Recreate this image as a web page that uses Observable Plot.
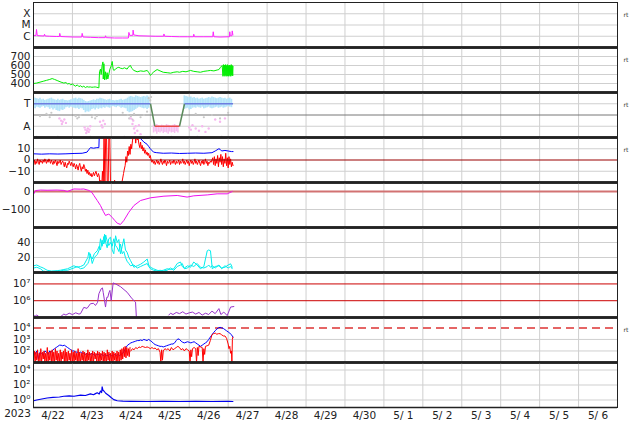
<!DOCTYPE html>
<html><head><meta charset="utf-8">
<script src="https://cdn.jsdelivr.net/npm/d3@7"></script>
<script src="https://cdn.jsdelivr.net/npm/@observablehq/plot@0.6"></script>
<style>body{margin:0;background:#fff} #chart{position:relative;width:634px;height:424px;}</style>
</head><body><div id="chart"></div><script>
// ---------- axis labels ----------
const dayLabels = ["4/22","4/23","4/24","4/25","4/26","4/27","4/28","4/29","4/30","5/ 1","5/ 2","5/ 3","5/ 4","5/ 5","5/ 6"];
const yearLabel = "2023";
const rtLabel = "rt";

// ---------- panel 1 : X-ray flux (hours since 4/22 00:00) ----------
const xrTicks = [1e-6, 1e-5, 1e-4];
const xrTickLabels = ["C", "M", "X"];
const xrT = [0.2,1.5,1.85,2.3,4,6.5,6.8,7.2,10,14,16.0,16.2,16.6,20,25,29.7,30,30.5,35,40,44.2,44.4,44.8,50,55,58.5,58.8,59.3,61.2,61.4,61.8,65,70,75,80.2,80.4,80.8,85,90,95,98.6,98.8,99.2,105,110.5,110.8,111.2,115,120.8,121.0,121.3,122.3,122.5,122.9];
const xrF = [1.2e-6,1.15e-6,4e-6,1.15e-6,1.1e-6,1.05e-6,1.5e-6,1.05e-6,1.0e-6,9.5e-7,9.5e-7,1.8e-6,9.5e-7,9e-7,8.5e-7,8.5e-7,1.8e-6,8.5e-7,8e-7,7.5e-7,7.5e-7,1.1e-6,7.5e-7,7e-7,7e-7,7e-7,2.2e-6,1.2e-6,1.2e-6,3.5e-6,1.3e-6,1.1e-6,1.05e-6,1.0e-6,1.0e-6,1.6e-6,1.0e-6,9.5e-7,9e-7,9e-7,9e-7,1.5e-6,9e-7,9e-7,9e-7,2.5e-6,9e-7,8.5e-7,9e-7,2.5e-6,1.1e-6,1.1e-6,3e-6,1.3e-6];

// ---------- panel 2 : solar wind speed ----------
const spTicks = [400, 500, 600, 700];
const spTickLabels = ["400", "500", "600", "700"];
const spT = [0,2,4,6,8,10,11.5,13,15,17,18.7,20,21,22,23,24,25,26,27,28,29,30,31,32,33,34,35,36,37,38,39,40.3,40.7,41.3,41.7,42.3,42.8,43.0,43.4,43.8,44.4,44.8,45.4,45.8,46.4,47.1,48.0,48.5,49.1,49.5,50.6,51.6,52.6,53.6,55,56,57.7,58.8,59.8,60.5,61.9,63.9,66,68,70.1,71.1,72.1,73,74.2,76.2,78,80,82.4,84.5,86.5,88.6,90,92,94,96.8,98.8,100.9,102.9,105,107.1,109.1,111.2,113.2,114.3,115.3,116.3,116.8,117.1,117.4,117.7,118,118.3,118.6,118.9,119.2,119.5,119.8,120.1,120.4,120.7,121,121.3,121.6,121.9,122.2,122.5,122.8,123];
const spV = [400,405,415,425,435,445,455,445,430,415,405,410,395,400,385,395,380,370,385,365,375,360,370,355,365,360,362,358,360,362,358,352,530,560,500,600,640,450,620,440,530,445,520,450,500,560,600,645,560,545,560,575,580,570,565,575,560,590,600,570,545,530,540,535,545,520,490,510,530,555,540,525,520,515,525,530,525,535,530,545,535,530,525,535,540,545,540,550,555,580,600,480,610,490,605,480,610,490,600,480,610,485,600,480,605,490,600,480,610,490,600,485,590];

// ---------- panel 3 : sector (T = 1, A = -1) ----------
const secTicks = [1, -1];
const secTickLabels = ["T", "A"];
const secT = [0, 72.1, 74.8, 90, 93.1, 123];
const secV = [1, 1, -1, -1, 1, 1];
const secColors = ["#6d7de0", "#5a8a5a", "#e84a4a", "#5a8a5a", "#6d7de0"];
const lb1Start = 0;
const lb1Lo = [0.6,0.55,0.7,0.65,0.6,0.7,0.75,0.6,0.7,0.65, 0.5,0.6,0.45,0.55,0.4,0.35,0.3,0.45,0.4,0.5, 0.65,0.7,0.6,0.7,0.65,0.6,0.55,0.6,0.5,0.6, 0.55,0.4,0.2,0.3,0.25,0.35,0.5,0.55,0.45,0.6, 0.5,0.6,0.55,0.65,0.6,0.7,0.65,0.6,0.7,0.75, 0.7,0.65,0.75,0.7,0.6,0.65,0.6,0.55,0.3,0.2, 0.25,0.3,0.4,0.5,0.6,0.7,0.65,0.6,0.55,0.6,0.5,0.6];
const lb1Hi = [1.6,1.5,1.45,1.4,1.5,1.35,1.4,1.3,1.35,1.4, 1.45,1.5,1.4,1.35,1.3,1.4,1.3,1.35,1.4,1.3, 1.3,1.25,1.3,1.35,1.4,1.45,1.5,1.4,1.5,1.45, 1.4,1.3,1.2,1.15,1.2,1.25,1.3,1.35,1.3,1.4, 1.4,1.5,1.45,1.4,1.35,1.3,1.35,1.4,1.3,1.3, 1.25,1.3,1.3,1.35,1.4,1.3,1.35,1.4,1.5,1.6, 1.65,1.6,1.55,1.7,1.65,1.6,1.55,1.6,1.65,1.6,1.7,1.6];
const lb2Start = 93;
const lb2Lo = [0.5,0.55,0.6,0.45,0.5,0.6,0.65,0.6,0.7,0.65, 0.6,0.7,0.55,0.6,0.65,0.7,0.6,0.55,0.6,0.65, 0.7,0.6,0.65,0.7,0.6,0.65,0.7,0.75,0.7,0.65];
const lb2Hi = [1.7,1.65,1.6,1.55,1.6,1.5,1.55,1.45,1.5,1.4, 1.45,1.5,1.4,1.45,1.5,1.55,1.5,1.6,1.55,1.5, 1.45,1.5,1.55,1.5,1.45,1.5,1.4,1.45,1.5,1.4];
const pkStart = 74;
const pkLo = [-1.6,-1.5,-1.7,-1.55,-1.6,-1.5,-1.65,-1.55,-1.6,-1.7,-1.5,-1.6,-1.55,-1.65,-1.5,-1.6];
const pkHi = [-0.9,-1.0,-0.85,-0.95,-1.0,-0.9,-0.95,-1.0,-0.85,-0.9,-0.95,-1.0,-0.9,-0.85,-0.95,-1.0];
const pinkT = [16,17,17.5,18,19,20, 31.5,32,32.5,33,33.5,34,34.5,35, 41,42,42.5,43,44, 60,61,61.5,62,62.5,63,64,65,66, 96,97,98,100,102,104,106,108, 112,115,118];
const pinkV = [-0.3,-0.5,-0.8,-0.6,-0.4,-0.7, -1.1,-1.3,-1.6,-1.4,-1.2,-1.5,-1.3,-1.0, -0.6,-0.9,-1.1,-0.5,-0.8, -0.3,-0.8,-0.5,-1.2,-1.6,-1.0,-1.4,-0.9,-1.7, -1.1,-1.3,-0.9,-1.2,-1.4,-1.0,-1.5,-1.2, -0.4,-0.6,-0.3];
const grayT = [4,8,9,10,11,26,27,28,29,36,37,38,39,55,58,59,60,61,62,66,68,70,71,72,72.5,100,105,110,115,120, 2,15,35,56,73,85,101,116];
const grayV = [-0.1,0.1,0,-0.2,0.2,-0.1,-0.3,-0.2,0,-0.2,0,-0.3,-0.1,0.2,0,-0.3,-0.1,-0.4,0.1,-0.2,0,0.3,1.5,1.3,1.6,0.1,-0.2,0,-0.3,0.2, -1.95,-1.95,-1.95,-1.95,-1.95,-1.95,-1.95,-1.95];

// ---------- panel 4 : IMF Bt (blue), Bz (red) nT ----------
const bTicks = [10, 0, -10];
const bTickLabels = ["10", "0", "\u221210"];
const btT = [0,5,10,15,20,25,30,33,34,35.1,37,39,40.3,40.6,49,60,65,66,68,70,71,72,74,76,80,85,90,95,100,105,110,112,114.3,115,116,118,120,122,123];
const btV = [5.5,5.2,5.5,5.3,5.5,5.8,6,7,9,11,10.5,11,11,25,25,24,21,19,16,14,12,10,7,6.5,6,6.2,5.8,6,6.2,6,6.5,8,10,9.5,8,8.5,8,7.5,7.5];
const bzStep = 0.5; // half-hour samples from 4/22 00:00
const bzV = [
 -3,0,-4,-1,-3,1,-2,-4,0,-2,-1,-3,0,-2,1,-1,-3,0,-2,1,-1,-3,0,-2,-4,-1,-3,0,-2,-5,-1,-3,-2,0,-4,-2,-1,
 -3,-6,-2,-5,-7,-3,-4,-1,-3,-5,-2,-4,-6,-3,-5,-8,-4,-6,-9,-5,-3,-7,-10,-6,-8,-4,-6,-10,-8,-12,-9,-13,-11,-14,-12,-15,-13,-11,-14,-12,-10,-13,-15,-12,-14,
 -25,-18,-25,-10,-25,25,-25,20,25,-25,-25,25,22,-25,-25,-25,
 -22,-25,-18,-25,-23,-25,-20,-25,-22,-25,-24,-20,-16,
 -12,-8,-5,3,-2,8,4,12,5,14,10,17,22,20,25,15,22,18,19,14,11,16,10,13,8,11,6,9,5,7,4,6,2,4,0,-2,0,-3,
 -1,-4,-2,0,-3,-1,-4,-2,1,-2,-4,-1,-3,0,-2,-5,-1,-3,-2,0,-4,-2,-1,-3,0,-2,-4,-1,-3,-2,0,-4,-1,-3,-2,1,-3,-1,-4,-2,0,-3,-1,-5,-2,0,-3,-1,-4,-2,1,-3,-1,-4,-2,0,-3,-5,-1,-3,0,-4,-2,1,-3,-1,-5,-2,-3,-1,-2,0,
 2,-4,3,-5,1,-3,4,-6,2,-2,5,-4,3,-6,1,-3,6,-5,2,-7,3,-4,1,-6,-2,-5];

// ---------- panel 5 : Dst nT ----------
const dstTicks = [0, -100];
const dstTickLabels = ["0", "\u2212100"];
const dstT = [0.2,1.2,4.3,8.4,14.6,18.7,20.8,24.9,29,31,34.1,36,37.2,39.3,41.3,43,44.4,46.4,48.5,50,51.6,53.6,55.7,58.8,61.9,66,72.1,80.4,88.6,94.7,98.8,107.1,113.2,119.4,122.5];
const dstV = [-13,5,8,7,8,6,0,14,13,14,6,-5,-22,-50,-78,-110,-133,-125,-144,-160,-176,-183,-161,-115,-78,-50,-35,-26,-22,-31,-24,-19,-13,-13,0];

// ---------- panel 6 : two cyan station indices ----------
const kTicks = [40, 20];
const kTickLabels = ["40", "20"];
const kT = [0.2,2,4.3,6,8.4,11,14.6,16.6,18.7,21,24.9,27,29,31,33.5,34.1,35,36.2,37.5,39.3,40.5,41.3,42.3,43.4,43.8,44.5,45.4,46.4,47.5,48.5,49.5,50.6,51.6,52.6,53.6,54.7,55.7,56.7,57.7,58.8,59.8,61.9,64,66,68,70.1,71,72.1,74,76.2,78,80,82.4,84.5,86.5,88.6,90.6,91.7,93,95,96.8,98.8,100.9,102.9,105,107.1,108,109.1,110.2,112,114.3,116,118,120,121.5,122.5];
const kA = [9,10,7.5,6,3,2,2.5,3,4,5, 9,7,8,10,20,27,22,18,25,29, 35,30,43,38,51,40,33,45,47,30, 25,49,40,44,25,35,45,30,27,20, 16,7,9,11,14,18,10,7,5,3, 2,3,5,4,5,12,14,8,6,9, 7,14,10,5,8,29,30,29,5,8, 9,6,7,10,11.6,7];
const kB = [6,7,5,2,1,1,1.5,2,3,3, 6,8,5,6,12,15,25,12,20,24, 30,45,35,48,40,50,42,36,40,35, 45,36,33,28,38,25,28,20,15,12, 9,10,6,8,10,12,8,5,3,2, 3,2,3,6,3,8,10,12,5,6, 10,8,12,7,6,8,10,7,9,6, 10,5,9,6,8,5];

// ---------- panel 7 : electron flux ----------
const elTicks = [1e6, 1e7];
const elTickLabels = ["10\u2076", "10\u2077"];
const elT = [0.2,1,2,3,3.3, 16.6,18.7,20,22,24,26,28,29,31,33,35.1,37,38.2,39.5,40.3,41.7,42.5,43,44.4,45.2,45.8,46.5,47.1,47.9,49.1,50.6,53.6,57.7,60.8,62.9,63.4,63.5, 83.4,84.5,86,88,90,92,94,96,98,100,102,104,106,108,110,112,114.3,115.5,117.3,119.4,121.5,123.5];
const elV = [1.3e5,1.2e5,1.4e5,1.2e5,NaN, 1.1e5,1.6e5,1.4e5,1.8e5,1.5e5,1.9e5,1.6e5,1.7e5,4e5,3.5e5,6.6e5,7e5,5.2e5,8e5,2.6e6,5.1e6,5.8e6,3e6,4.2e5,1.6e6,1.6e6,3e6,4.1e6,1.05e6,1.15e7,1e7,6.9e6,3.2e6,1.3e6,8.3e5,1.1e5,NaN, 1.4e5,1.8e5,1.5e5,2e5,1.7e5,2.2e5,1.6e5,1.9e5,2.1e5,1.6e5,2e5,1.4e5,1.8e5,1.5e5,2.4e5,1.7e5,3.4e5,1.5e5,2.1e5,1.3e5,4.2e5,4.5e5];

// ---------- panel 8 : proton flux (log10 values) ----------
const pTicks = [4, 3, 2];
const pTickLabels = ["10\u2074", "10\u00b3", "10\u00b2"];
const pBlueStep = 1; // hourly
const pBlueLog = [
 1.9,1.7,2.0,1.3,1.9,1.8,1.6,2.0,1.9,1.7, 2.0,1.9,2.1,2.2,2.3,2.4,2.5,2.5,2.45,2.5,
 2.4,2.3,2.2,2.1,2.0,2.0,1.9,1.9,1.8,1.9, 1.8,1.8,1.7,1.8,1.7,1.7,1.8,1.7,1.6,1.7,
 1.7,1.6,1.7,1.6,1.7,1.6,1.6,1.7,1.6,1.6, 1.7,1.6,1.7,1.6,1.7,1.8,2.0,2.3,2.5,2.6,
 2.7,2.75,2.8,2.85,2.9,2.9,2.95,2.9,3.0,2.95, 2.9,3.0,2.9,2.8,2.65,2.55,2.5,2.45,2.4,2.4,
 2.35,2.4,2.45,2.5,2.55,2.6,2.6,2.7,2.9,3.05, 3.0,2.85,2.75,2.7,2.75,2.8,2.75,2.7,2.75,2.8,
 2.7,2.6,2.5,2.4,2.5,2.6,2.7,2.8,3.0,3.2, 3.4,3.6,3.75,3.9,4.0,4.05,4.0,3.95,3.85,3.75,
 3.65,3.55,3.4,3.2];
const pRedStep = 0.5; // half-hourly, 4/22 00:00 - 4/24 12:00
const pRedLog1 = [
 1.1,2.0,1.0,1.9,1.2,2.1,1.0,1.8,1.1,2.2,1.0,1.9,1.3,2.0,1.0,1.8,1.1,2.3,1.0,1.9,
 1.2,2.0,1.0,2.1,1.1,1.9,1.0,2.2,1.2,2.0,1.0,1.8,1.1,2.1,1.0,1.9,1.3,2.0,1.0,2.2,
 1.1,1.9,1.0,2.0,1.2,1.8,1.0,2.1,1.1,1.9,1.0,2.0,1.2,1.8,1.0,2.2,1.1,1.9,1.0,1.8,
 1.2,2.0,1.0,1.9,1.1,1.8,1.0,2.1,1.2,1.9,1.0,1.8,1.1,2.0,1.0,1.9,1.3,1.8,1.0,2.0,
 1.1,1.9,1.0,1.8,1.2,2.0,1.0,1.9,1.1,1.8,1.0,2.1,1.2,1.9,1.0,1.8,1.1,2.0,1.0,1.9,
 1.2,1.8,1.0,2.0,1.1,1.9,1.0,2.1,1.2,2.2,1.3,2.3,1.5,2.4,1.4,2.3,1.6,2.2,1.5,2.3];
const pRedT2 = [60,61,62,63,64,65,66,67,68,69,70,71,72,73,74,75,76,77,78,78.5,79,79.5,80,81,82,83,84,85,86,87,88,89,90,91,92,93,94,95,96,96.5,97,97.5,98,99,100,100.5,101,101.5,102,103,104,104.5,105,105.5,106,107,108,109,110,111,112,113,114,115,116,117,118,119,120,120.5,121,121.5,122,122.3,122.6,122.9];
const pRedLog2 = [2.0,2.2,2.1,2.3,2.2,2.35,2.3,2.4,2.35,2.3,2.35,2.3,2.2,2.3,2.2,2.25,2.1,2.2,1.9,1.0,2.1,1.2,2.0,2.2,2.1,2.2,2.0,2.3,2.1,2.2,2.3,2.4,2.3,2.1,2.2,2.0,2.2,2.1,2.0,1.0,2.1,1.5,2.2,2.3,2.2,1.0,2.3,1.6,2.4,2.35,2.3,1.0,2.2,1.7,2.4,2.45,2.5,2.9,3.4,3.5,3.55,3.45,3.5,3.5,3.4,3.3,3.3,3.1,2.6,2.2,2.4,1.8,2.0,1.0,3.0,3.2];

// ---------- panel 9 : (log10 values) ----------
const qTicks = [4, 2, 0];
const qTickLabels = ["10\u2074", "10\u00b2", "10\u2070"];
const qT = [0.2,2,4.3,8.4,12,16,18.7,22,25,29,32,35.1,37,38.2,39.3,40.5,41.3,42,42.3,42.8,43.4,44.5,46.4,48,49.5,51.6,55,60,70,80,90,100,110,120,122.9];
const qLog = [-0.1,0.0,0.1,0.27,0.35,0.4,0.5,0.55,0.5,0.64,0.6,0.82,0.7,0.85,0.96,0.8,1.19,1.0,1.74,1.3,1.2,0.9,0.6,0.3,0.05,-0.1,-0.15,-0.18,-0.2,-0.18,-0.2,-0.18,-0.2,-0.18,-0.2];

// ---------- helpers ----------
const zip = (t, v) => t.slice(0, Math.min(t.length, v.length)).map((h, i) => ({h, v: v[i]}));
const stepped = (start, step, v) => v.map((val, i) => ({h: start + i * step, v: val}));
const band = (start, lo, hi) => lo.map((l, i) => ({h: start + i, lo: l, hi: hi[i]}));
const fmt = (ticks, labels) => d => {
  let bi = 0, bd = Infinity;
  ticks.forEach((t, i) => { const dd = Math.abs(t - d) / (Math.abs(t) || 1); if (dd < bd) { bd = dd; bi = i; } });
  return labels[bi];
};
const dayLines = d3.range(1, 15).map(d => d * 24);
const labelHours = dayLabels.map((_, i) => 12 + 24 * i);
const GRID = "#cfcfcf";
const chart = document.getElementById("chart");

function panel(i, o) {
  const last = i === 8;
  const mb = last ? 17 : 0;
  const dom = o.y.domain;
  const marks = [
    Plot.ruleX(dayLines, {stroke: GRID}),
    Plot.ruleY(o.grid || [], {stroke: GRID}),
    ...o.marks,
    Plot.frame({stroke: "#222"}),
    Plot.ruleY([dom[1]], {stroke: "#222", strokeWidth: i === 0 ? 1.2 : 2.6}),
    Plot.ruleY([dom[0]], {stroke: "#222", strokeWidth: last ? 1.5 : 2.6})
  ];
  if (o.rt) marks.push(Plot.text([rtLabel], {frameAnchor: "top-right", dx: 6, dy: 10, textAnchor: "start", fontSize: 6, fill: "#333"}));
  if (last) marks.push(Plot.text([yearLabel], {frameAnchor: "bottom-left", dx: -16, dy: 9, textAnchor: "middle", fontSize: 10.5, fill: "#222"}));
  const p = Plot.plot({
    width: 634, height: 45 + mb,
    marginLeft: 33, marginRight: 17, marginTop: 0, marginBottom: mb,
    style: {background: "none", overflow: "visible", fontFamily: "DejaVu Sans", fontSize: "10.5px", color: "#222"},
    x: {domain: [0, 360], label: null, axis: last ? "bottom" : null, ticks: labelHours,
        tickFormat: fmt(labelHours, dayLabels), tickSize: 0, tickPadding: 4},
    y: {label: null, tickSize: 0, tickPadding: 3, ...o.y},
    color: {type: "identity"},
    marks
  });
  p.style.position = "absolute";
  p.style.left = "0px";
  p.style.top = (2 + 45 * i) + "px";
  chart.append(p);
}

// 1. X-ray
panel(0, {
  rt: true,
  y: {type: "log", domain: [1e-7, 1e-3], ticks: xrTicks, tickFormat: fmt(xrTicks, xrTickLabels)},
  grid: xrTicks,
  marks: [Plot.line(zip(xrT, xrF), {x: "h", y: "v", stroke: "#ff22ff", strokeWidth: 1, clip: true})]
});
// 2. speed
panel(1, {
  rt: true,
  y: {domain: [300, 800], ticks: spTicks, tickFormat: fmt(spTicks, spTickLabels)},
  grid: spTicks,
  marks: [Plot.line(zip(spT, spV), {x: "h", y: "v", stroke: "#00ee00", strokeWidth: 1, clip: true})]
});
// 3. sector
const secLinks = secT.slice(0, -1).map((t, k) => ({x1: t, x2: secT[k + 1], y1: secV[k], y2: secV[k + 1], c: secColors[k]}));
panel(2, {
  rt: true,
  y: {domain: [-2, 2], ticks: secTicks, tickFormat: fmt(secTicks, secTickLabels)},
  grid: secTicks,
  marks: [
    Plot.ruleY([0], {stroke: "#777"}),
    Plot.ruleX(band(lb1Start, lb1Lo, lb1Hi), {x: "h", y1: "lo", y2: "hi", stroke: "#b3e4fa", strokeWidth: 1.7, clip: true}),
    Plot.ruleX(band(lb2Start, lb2Lo, lb2Hi), {x: "h", y1: "lo", y2: "hi", stroke: "#b3e4fa", strokeWidth: 1.7, clip: true}),
    Plot.dot(zip(grayT, grayV), {x: "h", y: "v", r: 1.1, fill: "#c8c8c8", clip: true}),
    Plot.ruleX(band(pkStart, pkLo, pkHi), {x: "h", y1: "lo", y2: "hi", stroke: "#f6bdf0", strokeWidth: 1.5, clip: true}),
    Plot.dot(zip(pinkT, pinkV), {x: "h", y: "v", r: 1.2, fill: "#f6b8ef", clip: true}),
    Plot.link(secLinks, {x1: "x1", y1: "y1", x2: "x2", y2: "y2", stroke: "c", strokeWidth: 1.5})
  ]
});
// 4. Bt / Bz
panel(3, {
  rt: true,
  y: {domain: [-20, 20], ticks: bTicks, tickFormat: fmt(bTicks, bTickLabels)},
  grid: [10, -10],
  marks: [
    Plot.line(zip(btT, btV), {x: "h", y: "v", stroke: "#0000ff", strokeWidth: 1, clip: true}),
    Plot.line(stepped(0, bzStep, bzV), {x: "h", y: "v", stroke: "#ff0000", strokeWidth: 1, clip: true}),
    Plot.ruleY([0], {stroke: "#990000", strokeWidth: 1})
  ]
});
// 5. Dst
panel(4, {
  y: {domain: [-200, 50], ticks: dstTicks, tickFormat: fmt(dstTicks, dstTickLabels)},
  grid: [-100],
  marks: [
    Plot.ruleY([0], {stroke: "#d27272", strokeWidth: 2}),
    Plot.line(zip(dstT, dstV), {x: "h", y: "v", stroke: "#ee11ee", strokeWidth: 1, clip: true})
  ]
});
// 6. cyan indices
panel(5, {
  y: {domain: [0, 60], ticks: kTicks, tickFormat: fmt(kTicks, kTickLabels)},
  grid: kTicks,
  marks: [
    Plot.line(zip(kT, kB), {x: "h", y: "v", stroke: "#00eeee", strokeWidth: 1, clip: true}),
    Plot.line(zip(kT, kA), {x: "h", y: "v", stroke: "#00eeee", strokeWidth: 1, clip: true})
  ]
});
// 7. electrons
panel(6, {
  y: {type: "log", domain: [1e5, 4.8e7], ticks: elTicks, tickFormat: fmt(elTicks, elTickLabels)},
  grid: [],
  marks: [
    Plot.ruleY(elTicks, {stroke: "#cc0000", strokeWidth: 1}),
    Plot.line(zip(elT, elV), {x: "h", y: "v", stroke: "#9933cc", strokeWidth: 1, clip: true})
  ]
});
// 8. protons
panel(7, {
  rt: true,
  y: {domain: [1, 4.9], ticks: pTicks, tickFormat: fmt(pTicks, pTickLabels)},
  grid: [3, 2],
  marks: [
    Plot.ruleY([4], {stroke: "#dd3333", strokeWidth: 1.5, strokeDasharray: "8,5"}),
    Plot.line(stepped(0, pBlueStep, pBlueLog), {x: "h", y: "v", stroke: "#0000ff", strokeWidth: 1, clip: true}),
    Plot.line(stepped(0, pRedStep, pRedLog1), {x: "h", y: "v", stroke: "#ff0000", strokeWidth: 1, clip: true}),
    Plot.line(zip(pRedT2, pRedLog2), {x: "h", y: "v", stroke: "#ff0000", strokeWidth: 1, clip: true})
  ]
});
// 9. bottom panel
panel(8, {
  y: {domain: [-1, 5], ticks: qTicks, tickFormat: fmt(qTicks, qTickLabels)},
  grid: qTicks,
  marks: [Plot.line(zip(qT, qLog), {x: "h", y: "v", stroke: "#0000ee", strokeWidth: 1.2, clip: true})]
});
</script></body></html>
